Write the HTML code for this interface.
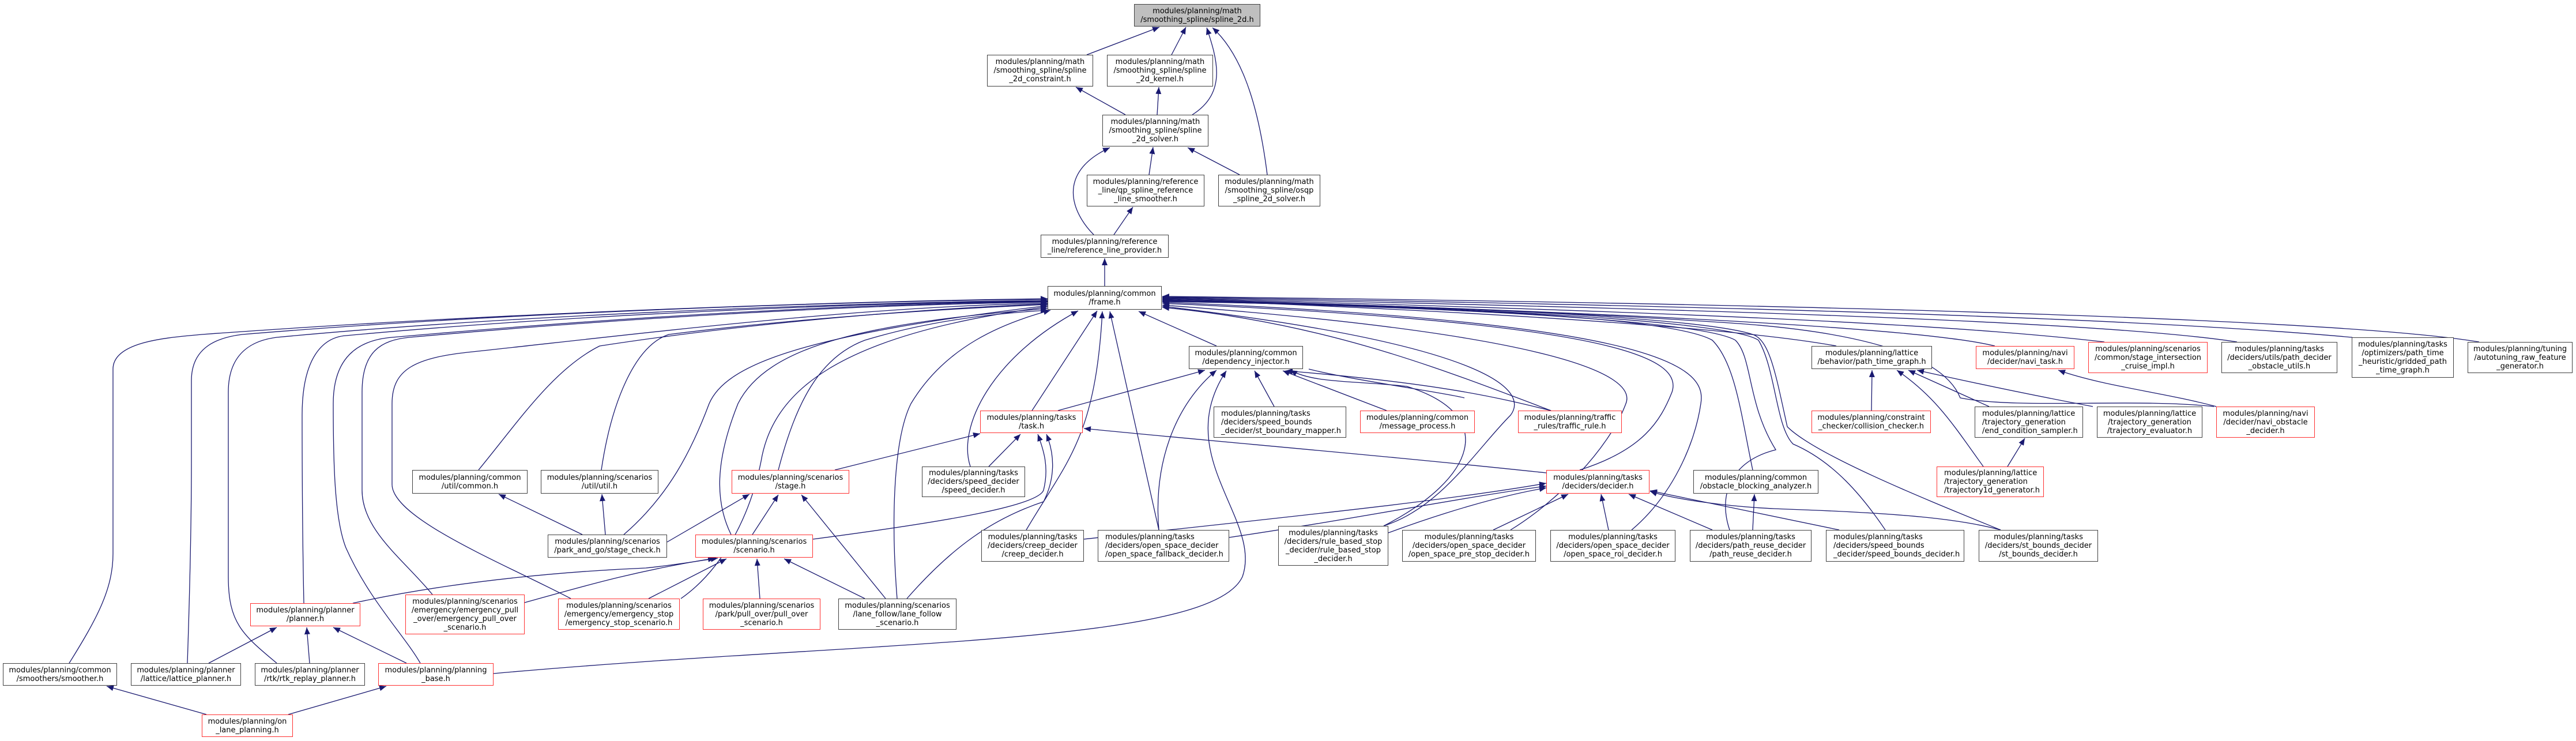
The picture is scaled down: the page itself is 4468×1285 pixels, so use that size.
<!DOCTYPE html>
<html><head><meta charset="utf-8">
<style>
html,body{margin:0;padding:0;background:#fff;}
#c{position:relative;width:4468px;height:1285px;overflow:hidden;background:#fff;}
svg{position:absolute;left:0;top:0;}
.n{position:absolute;box-sizing:border-box;border:1.5px solid #404040;background:#fff;font-family:"DejaVu Sans","Liberation Sans",sans-serif;font-size:13px;line-height:15px;color:#000;text-align:center;display:flex;flex-direction:column;justify-content:center;white-space:nowrap;}
.r{border-color:#ff3030;}
.g{background:#bfbfbf;}
.l{text-align:left;padding-left:12px;}
</style></head><body><div id="c">
<svg width="4468" height="1285" viewBox="0 0 4468 1285">
<defs><marker id="a" markerUnits="userSpaceOnUse" markerWidth="12" markerHeight="10" refX="12" refY="5" orient="auto"><path d="M0,0 L12,5 L0,10 z" fill="#191970"/></marker></defs>
<g fill="none" stroke="#191970" stroke-width="1.3" marker-end="url(#a)">
<!-- top cluster -->
<path d="M1885,95 L2011,47"/>
<path d="M2032,95 L2057,47"/>
<path d="M2068,199 C2130,160 2110,100 2093,48"/>
<path d="M2198,303 C2185,200 2160,100 2103,48"/>
<path d="M1952,199 L1866,151"/>
<path d="M2007,199 L2010,151"/>
<path d="M1993,303 L2000,255"/>
<path d="M2150,303 L2060,256"/>
<path d="M1897,407 C1860,370 1830,300 1925,256"/>
<path d="M1932,407 L1965,359"/>
<path d="M1916,496 L1916,448"/>
<!-- frame left -->
<path d="M120,1150 C170,1070 196,1020 196,960 L196,640 C196,590 300,585 350,580 C900,540 1500,522 1817,518"/>
<path d="M325,1150 C330,1000 332,900 332,800 L332,660 C332,600 380,585 420,580 C900,540 1500,522 1817,519"/>
<path d="M480,1150 C420,1100 396,1080 396,1000 L396,680 C396,610 440,590 480,585 C900,545 1500,524 1817,521"/>
<path d="M527,1046 C525,950 524,850 524,720 C524,620 560,585 600,582 C1000,545 1500,525 1817,522"/>
<path d="M729,1150 C700,1100 640,1040 600,950 C580,900 578,800 578,700 C578,620 620,590 680,585 C1100,548 1500,526 1817,523"/>
<path d="M750,1031 C700,970 628,920 628,850 L628,680 C628,610 660,590 710,585 C1100,550 1500,528 1817,524"/>
<path d="M990,1038 C880,980 680,900 680,840 L680,700 C680,640 720,620 820,610 C1100,580 1500,530 1817,526"/>
<path d="M830,815 C900,730 960,640 1040,600 C1300,560 1600,535 1817,527"/>
<path d="M1043,815 C1060,700 1100,600 1160,580 C1400,550 1650,535 1817,528"/>
<path d="M1082,927 C1160,860 1200,780 1230,700 C1260,630 1400,580 1817,530"/>
<path d="M1181,1038 C1250,990 1300,900 1320,800 C1340,680 1450,580 1817,532"/>
<path d="M1268,927 C1240,870 1240,800 1280,700 C1330,600 1500,560 1817,535"/>
<path d="M1350,815 C1380,700 1420,620 1500,590 C1600,560 1700,545 1817,538"/>
<path d="M1556,1038 C1545,900 1550,760 1580,700 C1640,600 1740,560 1822,538"/>
<path d="M1683,809 C1660,740 1720,620 1870,539"/>
<path d="M1790,712 L1903,539"/>
<path d="M1780,919 C1850,800 1900,760 1912,540"/>
<path d="M2010,919 L1925,540"/>
<path d="M2110,600 L1975,540"/>
<!-- frame right -->
<path d="M2690,712 C2500,640 2300,560 2016,533"/>
<path d="M2400,912 C2500,880 2560,780 2620,720 C2650,680 2600,600 2016,531"/>
<path d="M2620,919 C2700,870 2790,780 2820,700 C2840,650 2700,580 2016,529"/>
<path d="M2740,815 C2850,780 2880,730 2900,680 C2920,620 2800,560 2016,526"/>
<path d="M2830,919 C2900,860 2940,770 2950,700 C2960,640 2900,560 2016,524"/>
<path d="M3040,815 C3020,720 3010,630 2970,590 C2900,550 2500,530 2016,523"/>
<path d="M3000,919 C2980,860 3000,800 3080,780 C3030,700 3040,620 3010,590 C2950,555 2500,532 2016,522"/>
<path d="M3270,919 C3230,860 3180,800 3110,770 C3080,740 3080,640 3050,590 C3000,555 2500,530 2016,521"/>
<path d="M3470,919 C3350,870 3150,790 3100,740 C3080,650 3070,590 3040,580 C2950,550 2500,530 2016,520"/>
<path d="M3185,600 C3050,575 2700,545 2016,519"/>
<path d="M3460,600 C3380,580 3100,550 2016,518"/>
<path d="M3650,593 C3450,570 3100,545 2016,517"/>
<path d="M3880,593 C3700,565 3200,540 2016,516"/>
<path d="M4080,585 C3800,560 3300,535 2016,515"/>
<path d="M4300,593 C4100,560 3400,530 2016,514"/>
<path d="M3840,705 C3700,690 3500,710 3400,690 C3380,640 3300,580 3000,560 C2700,540 2300,525 2016,521"/>
<!-- dependency injector -->
<path d="M1835,712 L2090,642"/>
<path d="M2010,919 C2000,800 2040,700 2110,642"/>
<path d="M856,1168 C1500,1110 2100,1120 2155,1000 C2190,900 2030,790 2127,643"/>
<path d="M2210,705 L2176,643"/>
<path d="M2405,712 L2225,643"/>
<path d="M2690,712 C2600,690 2500,665 2230,643"/>
<path d="M2400,912 C2560,830 2600,720 2440,670 C2350,660 2280,665 2238,642"/>
<path d="M2270,640 C2350,660 2500,680 2540,690" marker-end="none"/>
<!-- task -->
<path d="M1448,815 L1700,752"/>
<path d="M1715,809 L1770,753"/>
<path d="M1410,935 C1600,910 1800,880 1810,850 C1820,810 1810,780 1800,753"/>
<path d="M1573,1038 C1650,950 1720,900 1810,870 C1830,830 1830,790 1815,753"/>
<path d="M2682,820 C2400,790 2100,765 1880,743"/>
<!-- stage -->
<path d="M1157,940 L1300,857"/>
<path d="M1305,927 L1350,858"/>
<path d="M1536,1038 L1390,858"/>
<!-- scenario -->
<path d="M612,1046 C800,1005 1000,990 1120,985 C1170,980 1215,972 1245,968"/>
<path d="M910,1045 C1000,1020 1100,990 1240,968"/>
<path d="M1125,1038 L1260,969"/>
<path d="M1318,1038 L1313,969"/>
<path d="M1500,1038 L1360,969"/>
<!-- planner -->
<path d="M362,1150 L480,1088"/>
<path d="M537,1150 L532,1088"/>
<path d="M705,1150 L578,1088"/>
<!-- on lane -->
<path d="M358,1239 L185,1190"/>
<path d="M500,1239 L670,1190"/>
<!-- util -->
<path d="M1010,927 L865,857"/>
<path d="M1050,927 L1044,857"/>
<!-- decider -->
<path d="M1880,935 C2200,900 2500,870 2682,838"/>
<path d="M2132,932 C2350,900 2550,860 2682,843"/>
<path d="M2408,924 C2500,890 2600,860 2682,846"/>
<path d="M2590,919 L2720,857"/>
<path d="M2790,919 L2777,857"/>
<path d="M2970,919 L2825,857"/>
<path d="M3190,919 L2862,851"/>
<path d="M3470,919 C3400,900 3300,890 3100,883 C3000,880 2900,865 2862,852"/>
<path d="M3040,919 L3043,857"/>
<!-- path time graph -->
<path d="M3246,712 L3247,642"/>
<path d="M3450,705 L3310,642"/>
<path d="M3630,705 C3550,690 3450,670 3325,642"/>
<path d="M3440,809 C3390,740 3360,690 3290,642"/>
<path d="M3482,809 L3512,760"/>
<path d="M3844,705 C3750,680 3650,670 3570,642"/>
</g>
</svg>

<div class="n g" style="left:1967px;top:7px;width:219px;height:39px">modules/planning/math<br>/smoothing_spline/spline_2d.h</div>
<div class="n" style="left:1712px;top:95px;width:184px;height:55px">modules/planning/math<br>/smoothing_spline/spline<br>_2d_constraint.h</div>
<div class="n" style="left:1920px;top:95px;width:184px;height:55px">modules/planning/math<br>/smoothing_spline/spline<br>_2d_kernel.h</div>
<div class="n" style="left:1912px;top:199px;width:184px;height:55px">modules/planning/math<br>/smoothing_spline/spline<br>_2d_solver.h</div>
<div class="n" style="left:1885px;top:303px;width:204px;height:55px">modules/planning/reference<br>_line/qp_spline_reference<br>_line_smoother.h</div>
<div class="n" style="left:2113px;top:303px;width:177px;height:55px">modules/planning/math<br>/smoothing_spline/osqp<br>_spline_2d_solver.h</div>
<div class="n" style="left:1805px;top:407px;width:222px;height:40px">modules/planning/reference<br>_line/reference_line_provider.h</div>
<div class="n" style="left:1817px;top:496px;width:198px;height:41px">modules/planning/common<br>/frame.h</div>
<div class="n" style="left:2062px;top:600px;width:198px;height:40px">modules/planning/common<br>/dependency_injector.h</div>
<div class="n r" style="left:1700px;top:712px;width:178px;height:39px">modules/planning/tasks<br>/task.h</div>
<div class="n l" style="left:2105px;top:705px;width:230px;height:54px">modules/planning/tasks<br>/deciders/speed_bounds<br>_decider/st_boundary_mapper.h</div>
<div class="n r" style="left:2359px;top:712px;width:199px;height:39px">modules/planning/common<br>/message_process.h</div>
<div class="n r" style="left:1269px;top:815px;width:204px;height:41px">modules/planning/scenarios<br>/stage.h</div>
<div class="n" style="left:1599px;top:809px;width:179px;height:53px">modules/planning/tasks<br>/deciders/speed_decider<br>/speed_decider.h</div>
<div class="n r" style="left:1206px;top:927px;width:204px;height:40px">modules/planning/scenarios<br>/scenario.h</div>
<div class="n" style="left:1702px;top:919px;width:178px;height:55px">modules/planning/tasks<br>/deciders/creep_decider<br>/creep_decider.h</div>
<div class="n l" style="left:1904px;top:919px;width:228px;height:55px">modules/planning/tasks<br>/deciders/open_space_decider<br>/open_space_fallback_decider.h</div>
<div class="n" style="left:2217px;top:912px;width:191px;height:69px">modules/planning/tasks<br>/deciders/rule_based_stop<br>_decider/rule_based_stop<br>_decider.h</div>
<div class="n" style="left:2432px;top:919px;width:232px;height:55px">modules/planning/tasks<br>/deciders/open_space_decider<br>/open_space_pre_stop_decider.h</div>
<div class="n r" style="left:1219px;top:1038px;width:204px;height:54px">modules/planning/scenarios<br>/park/pull_over/pull_over<br>_scenario.h</div>
<div class="n" style="left:1454px;top:1038px;width:205px;height:54px">modules/planning/scenarios<br>/lane_follow/lane_follow<br>_scenario.h</div>
<div class="n" style="left:715px;top:815px;width:200px;height:41px">modules/planning/common<br>/util/common.h</div>
<div class="n" style="left:938px;top:815px;width:204px;height:41px">modules/planning/scenarios<br>/util/util.h</div>
<div class="n" style="left:950px;top:927px;width:207px;height:40px">modules/planning/scenarios<br>/park_and_go/stage_check.h</div>
<div class="n r" style="left:434px;top:1046px;width:191px;height:40px">modules/planning/planner<br>/planner.h</div>
<div class="n r" style="left:703px;top:1031px;width:207px;height:69px">modules/planning/scenarios<br>/emergency/emergency_pull<br>_over/emergency_pull_over<br>_scenario.h</div>
<div class="n r" style="left:968px;top:1038px;width:211px;height:54px">modules/planning/scenarios<br>/emergency/emergency_stop<br>/emergency_stop_scenario.h</div>
<div class="n" style="left:5px;top:1150px;width:198px;height:39px">modules/planning/common<br>/smoothers/smoother.h</div>
<div class="n" style="left:227px;top:1150px;width:191px;height:39px">modules/planning/planner<br>/lattice/lattice_planner.h</div>
<div class="n" style="left:442px;top:1150px;width:191px;height:39px">modules/planning/planner<br>/rtk/rtk_replay_planner.h</div>
<div class="n r" style="left:656px;top:1150px;width:200px;height:39px">modules/planning/planning<br>_base.h</div>
<div class="n r" style="left:350px;top:1239px;width:158px;height:39px">modules/planning/on<br>_lane_planning.h</div>
<div class="n r" style="left:2633px;top:712px;width:180px;height:39px">modules/planning/traffic<br>_rules/traffic_rule.h</div>
<div class="n r" style="left:2682px;top:815px;width:179px;height:41px">modules/planning/tasks<br>/deciders/decider.h</div>
<div class="n" style="left:2937px;top:815px;width:217px;height:41px">modules/planning/common<br>/obstacle_blocking_analyzer.h</div>
<div class="n" style="left:2689px;top:919px;width:217px;height:55px">modules/planning/tasks<br>/deciders/open_space_decider<br>/open_space_roi_decider.h</div>
<div class="n" style="left:2931px;top:919px;width:211px;height:55px">modules/planning/tasks<br>/deciders/path_reuse_decider<br>/path_reuse_decider.h</div>
<div class="n l" style="left:3167px;top:919px;width:240px;height:55px">modules/planning/tasks<br>/deciders/speed_bounds<br>_decider/speed_bounds_decider.h</div>
<div class="n" style="left:3432px;top:919px;width:207px;height:55px">modules/planning/tasks<br>/deciders/st_bounds_decider<br>/st_bounds_decider.h</div>
<div class="n" style="left:3142px;top:600px;width:209px;height:40px">modules/planning/lattice<br>/behavior/path_time_graph.h</div>
<div class="n r" style="left:3427px;top:600px;width:171px;height:40px">modules/planning/navi<br>/decider/navi_task.h</div>
<div class="n r" style="left:3622px;top:593px;width:207px;height:54px">modules/planning/scenarios<br>/common/stage_intersection<br>_cruise_impl.h</div>
<div class="n r" style="left:3142px;top:712px;width:207px;height:39px">modules/planning/constraint<br>_checker/collision_checker.h</div>
<div class="n l" style="left:3425px;top:705px;width:188px;height:54px">modules/planning/lattice<br>/trajectory_generation<br>/end_condition_sampler.h</div>
<div class="n" style="left:3637px;top:705px;width:183px;height:54px">modules/planning/lattice<br>/trajectory_generation<br>/trajectory_evaluator.h</div>
<div class="n r l" style="left:3359px;top:809px;width:186px;height:53px">modules/planning/lattice<br>/trajectory_generation<br>/trajectory1d_generator.h</div>
<div class="n r" style="left:3844px;top:705px;width:171px;height:54px">modules/planning/navi<br>/decider/navi_obstacle<br>_decider.h</div>
<div class="n" style="left:3853px;top:593px;width:201px;height:54px">modules/planning/tasks<br>/deciders/utils/path_decider<br>_obstacle_utils.h</div>
<div class="n" style="left:4079px;top:585px;width:177px;height:70px">modules/planning/tasks<br>/optimizers/path_time<br>_heuristic/gridded_path<br>_time_graph.h</div>
<div class="n" style="left:4280px;top:593px;width:182px;height:54px">modules/planning/tuning<br>/autotuning_raw_feature<br>_generator.h</div>
</div></body></html>
